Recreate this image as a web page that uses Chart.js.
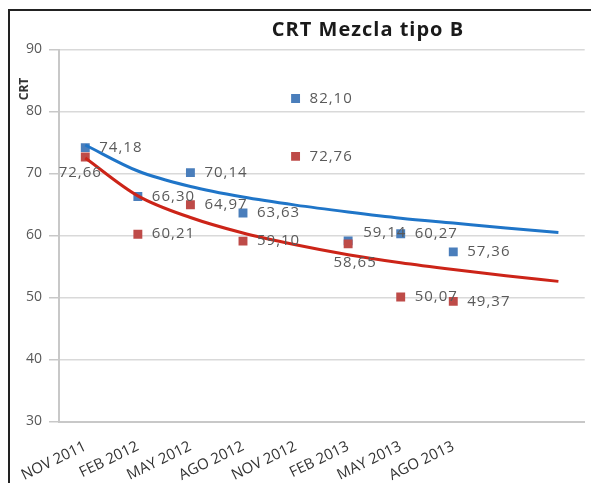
<!DOCTYPE html>
<html>
<head>
<meta charset="utf-8">
<script src="https://cdn.jsdelivr.net/npm/chart.js@4.4.0/dist/chart.umd.min.js"></script>
<style>
  html, body { margin: 0; padding: 0; background: #fff; }
  #wrap { position: relative; width: 591px; height: 483px; overflow: hidden; }
  #frame { position: absolute; left: 8px; top: 9px; width: 700px; height: 600px; border-left: 2px solid #222; border-top: 2px solid #222; }
  canvas { position: absolute; left: 0; top: 0; }
</style>
</head>
<body>
<div id="wrap">
  <div id="frame"></div>
  <canvas id="crt-chart" width="591" height="483"></canvas>
</div>
<script>
// categorias (las dos ultimas vacias: la tendencia se proyecta 2 periodos)
const categories = ['NOV 2011', 'FEB 2012', 'MAY 2012', 'AGO 2012', 'NOV 2012', 'FEB 2013', 'MAY 2013', 'AGO 2013', '', ''];
const blueValues = [74.18, 66.30, 70.14, 63.63, 82.10, 59.14, 60.27, 57.36];
const redValues = [72.66, 60.21, 64.97, 59.10, 72.76, 58.65, 50.07, 49.37];
// lineas de tendencia
const blueTrend = [74.6, 70.4, 67.9, 66.2, 64.9, 63.8, 62.8, 62.0, 61.2, 60.5];
const redTrend = [72.5, 66.4, 62.9, 60.4, 58.5, 56.9, 55.6, 54.5, 53.5, 52.6];
const yTicks = [30, 40, 50, 60, 70, 80, 90];
const titleText = 'CRT Mezcla tipo B';
const yTitle = 'CRT';

const blueLabelPlaces = ['right', 'right', 'right', 'right', 'right', 'upRight', 'right', 'right'];
const redLabelPlaces = ['belowLeft', 'right', 'right', 'right', 'right', 'below', 'right', 'right'];

const fmt = v => v.toFixed(2).replace('.', ',');

const textPlugin = {
  id: 'texts',
  afterDraw(chart) {
    const ctx = chart.ctx;
    ctx.save();
    ctx.fillStyle = '#1a1a1a';
    ctx.font = 'bold 20px "Open Sans"';
    ctx.letterSpacing = '1px';
    ctx.textAlign = 'center';
    ctx.textBaseline = 'middle';
    ctx.fillText(titleText, 368, 30);
    ctx.letterSpacing = '0px';
    ctx.translate(25, 89);
    ctx.rotate(-Math.PI / 2);
    ctx.font = 'bold 12px "Open Sans"';
    ctx.fillStyle = '#333';
    ctx.fillText(yTitle, 0, 0);
    ctx.restore();
  },
  afterDatasetsDraw(chart) {
    const ctx = chart.ctx;
    ctx.save();
    ctx.font = '15px "Open Sans"';
    ctx.letterSpacing = '1px';
    ctx.fillStyle = '#5a5a5a';
    ctx.textBaseline = 'middle';
    chart.data.datasets.forEach((ds, i) => {
      if (!ds.labelPlaces) return;
      const meta = chart.getDatasetMeta(i);
      meta.data.forEach((pt, j) => {
        const txt = fmt(ds.data[j]);
        const place = ds.labelPlaces[j];
        if (place === 'below') {
          ctx.textAlign = 'center';
          ctx.fillText(txt, pt.x + 7, pt.y + 19);
        } else if (place === 'belowLeft') {
          ctx.textAlign = 'center';
          ctx.fillText(txt, pt.x - 5, pt.y + 16);
        } else if (place === 'upRight') {
          ctx.textAlign = 'left';
          ctx.fillText(txt, pt.x + 15, pt.y - 8);
        } else {
          ctx.textAlign = 'left';
          ctx.fillText(txt, pt.x + 14, pt.y);
        }
      });
    });
    ctx.restore();
  }
};

const ctx = document.getElementById('crt-chart').getContext('2d');
new Chart(ctx, {
  type: 'line',
  data: {
    labels: categories,
    datasets: [
      {
        label: 'Tendencia azul',
        data: blueTrend,
        borderColor: '#1f75c8',
        borderWidth: 3,
        pointRadius: 0,
        cubicInterpolationMode: 'monotone',
        fill: false,
      },
      {
        label: 'Tendencia roja',
        data: redTrend,
        borderColor: '#cc2418',
        borderWidth: 3,
        pointRadius: 0,
        cubicInterpolationMode: 'monotone',
        fill: false,
      },
      {
        label: 'Rojo',
        data: redValues,
        showLine: false,
        pointStyle: 'rect',
        pointRadius: 6.3,
        pointBorderWidth: 0,
        backgroundColor: '#be4b48',
        borderColor: '#be4b48',
        labelPlaces: redLabelPlaces,
      },
      {
        label: 'Azul',
        data: blueValues,
        showLine: false,
        pointStyle: 'rect',
        pointRadius: 6.3,
        pointBorderWidth: 0,
        backgroundColor: '#4a7ebb',
        borderColor: '#4a7ebb',
        labelPlaces: blueLabelPlaces,
      },
    ],
  },
  options: {
    responsive: false,
    animation: false,
    layout: { padding: { top: 49.5, right: 6, left: 0, bottom: 0 } },
    plugins: {
      legend: { display: false },
      title: { display: false },
      tooltip: { enabled: false },
    },
    scales: {
      x: {
        offset: true,
        grid: { display: false, drawTicks: false },
        border: { color: '#c8c8c8', width: 2 },
        ticks: {
          autoSkip: false,
          minRotation: 26,
          maxRotation: 26,
          color: '#333333',
          font: { family: 'Open Sans', size: 15 },
          padding: 16,
        },
        afterFit: s => { s.height = 61.5; },
      },
      y: {
        min: 30,
        max: 90,
        afterBuildTicks: s => { s.ticks = yTicks.map(v => ({ value: v })); },
        ticks: {
          color: '#595959',
          font: { family: 'Open Sans', size: 14 },
          padding: 7,
        },
        grid: { color: '#d9d9d9', lineWidth: 1.5, tickLength: 10, tickColor: '#c8c8c8' },
        border: { color: '#c8c8c8', width: 2 },
        afterFit: s => { s.width = 59; },
      },
    },
  },
  plugins: [textPlugin],
});
</script>
</body>
</html>
